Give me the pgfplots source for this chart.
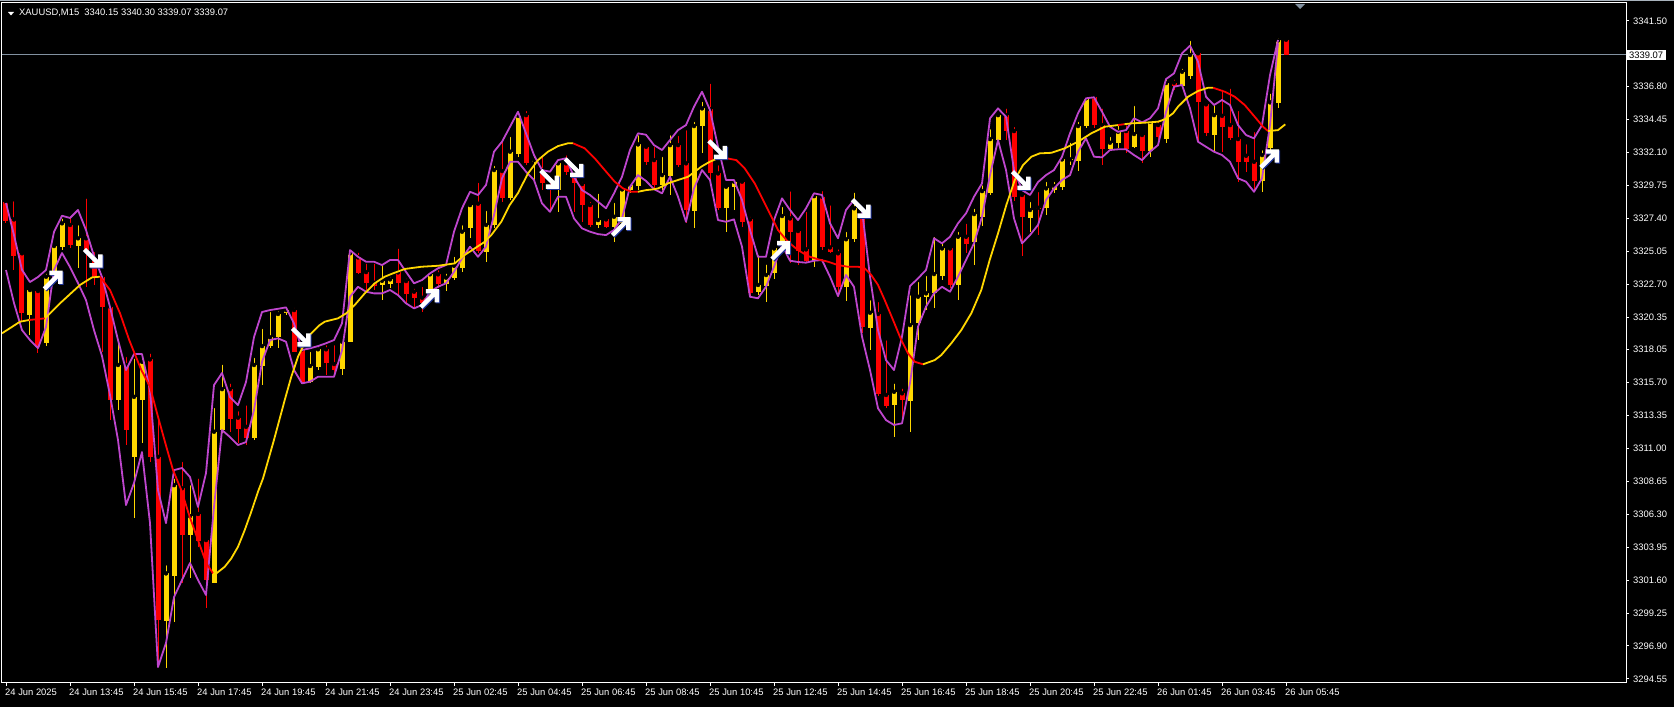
\documentclass[border=0pt]{standalone}
\usepackage{fontspec}
\setmainfont{Liberation Sans}
\usepackage{pgfplots}
\usepackage{pgfplotstable}
\pgfplotsset{compat=1.18}
\definecolor{mtyel}{RGB}{255,215,0}
\definecolor{mtred}{RGB}{255,0,0}
\definecolor{mtpur}{RGB}{190,70,205}
\definecolor{mtgray}{RGB}{130,145,160}
\definecolor{mtnavy}{RGB}{30,50,150}

\pgfdeclareplotmark{arrdr}{%
  \pgfsetlinewidth{4.4pt}\pgfsetmiterjoin\pgfsetbuttcap
  \pgfsetstrokecolor{mtnavy}%
  \pgfpathmoveto{\pgfpoint{-2pt}{-9pt}}\pgfpathlineto{\pgfpoint{9pt}{-9pt}}\pgfpathlineto{\pgfpoint{9pt}{2pt}}%
  \pgfpathmoveto{\pgfpoint{-7pt}{7pt}}\pgfpathlineto{\pgfpoint{8pt}{-8pt}}%
  \pgfusepathqstroke
  \pgfsetstrokecolor{white}%
  \pgfpathmoveto{\pgfpoint{-3pt}{-8pt}}\pgfpathlineto{\pgfpoint{8pt}{-8pt}}\pgfpathlineto{\pgfpoint{8pt}{3pt}}%
  \pgfpathmoveto{\pgfpoint{-8pt}{8pt}}\pgfpathlineto{\pgfpoint{7pt}{-7pt}}%
  \pgfusepathqstroke}
\pgfdeclareplotmark{arrur}{%
  \pgfsetlinewidth{4.4pt}\pgfsetmiterjoin\pgfsetbuttcap
  \pgfsetstrokecolor{mtnavy}%
  \pgfpathmoveto{\pgfpoint{-2pt}{7pt}}\pgfpathlineto{\pgfpoint{9pt}{7pt}}\pgfpathlineto{\pgfpoint{9pt}{-4pt}}%
  \pgfpathmoveto{\pgfpoint{-7pt}{-9pt}}\pgfpathlineto{\pgfpoint{8pt}{6pt}}%
  \pgfusepathqstroke
  \pgfsetstrokecolor{white}%
  \pgfpathmoveto{\pgfpoint{-3pt}{8pt}}\pgfpathlineto{\pgfpoint{8pt}{8pt}}\pgfpathlineto{\pgfpoint{8pt}{-3pt}}%
  \pgfpathmoveto{\pgfpoint{-8pt}{-8pt}}\pgfpathlineto{\pgfpoint{7pt}{7pt}}%
  \pgfusepathqstroke}

% bearish candles: index open high low close
\pgfplotstableread{
i o h l c
0 3328.59 3328.71 3327.07 3327.23
1 3327.33 3328.76 3323.72 3324.74
2 3324.91 3325.14 3320.00 3320.63
4 3322.22 3322.29 3317.81 3318.24
8 3326.93 3327.64 3325.29 3325.50
10 3325.98 3328.95 3322.52 3325.02
11 3324.57 3325.14 3322.65 3323.14
12 3323.24 3323.36 3317.89 3321.10
13 3321.10 3321.22 3313.01 3314.44
15 3316.94 3317.65 3311.23 3312.30
18 3317.34 3317.89 3310.04 3310.39
19 3310.39 3313.25 3295.41 3298.74
22 3308.14 3310.16 3301.36 3304.81
24 3306.31 3308.97 3303.97 3304.40
25 3304.45 3304.59 3299.58 3301.60
28 3315.22 3315.75 3312.18 3313.08
29 3313.18 3313.78 3311.35 3312.35
30 3312.53 3314.20 3311.23 3311.71
36 3320.86 3321.15 3317.86 3317.89
37 3318.06 3318.36 3315.65 3315.75
40 3318.06 3318.49 3316.22 3317.06
41 3317.01 3318.49 3316.10 3316.58
44 3324.62 3325.09 3323.43 3323.52
45 3323.57 3324.31 3322.29 3322.81
46 3322.81 3324.31 3322.29 3322.57
49 3323.55 3325.38 3321.93 3322.77
50 3322.93 3323.24 3321.34 3321.98
51 3322.17 3322.52 3320.98 3321.70
52 3321.74 3322.65 3320.74 3321.34
54 3323.41 3323.84 3322.41 3322.70
59 3328.45 3330.07 3324.92 3325.07
62 3330.78 3333.11 3328.59 3328.83
65 3334.77 3335.20 3331.21 3331.33
67 3330.85 3332.04 3329.42 3329.90
68 3329.66 3330.14 3328.00 3329.42
70 3331.33 3332.04 3330.49 3330.73
71 3330.61 3330.73 3327.87 3329.90
72 3329.85 3330.14 3327.16 3328.35
73 3328.35 3328.71 3326.81 3326.93
75 3327.33 3327.57 3326.71 3326.81
80 3332.51 3332.63 3331.21 3331.44
81 3331.56 3332.63 3329.57 3329.78
84 3332.63 3333.42 3331.06 3331.21
85 3331.33 3333.83 3327.05 3328.00
88 3335.18 3337.15 3329.90 3330.61
89 3330.61 3331.33 3328.00 3328.12
92 3330.02 3330.14 3326.81 3327.16
93 3327.33 3327.64 3321.81 3322.05
98 3327.40 3329.47 3324.19 3326.45
99 3326.50 3326.71 3324.07 3325.09
100 3325.19 3328.00 3324.29 3324.38
102 3328.95 3329.49 3325.14 3325.33
103 3325.33 3328.47 3324.92 3325.02
104 3324.91 3325.33 3321.81 3322.52
107 3327.52 3327.85 3319.20 3319.67
109 3320.58 3321.57 3314.72 3314.87
110 3314.80 3318.84 3313.85 3314.01
112 3314.92 3315.39 3313.13 3314.44
118 3325.26 3325.50 3322.41 3322.65
120 3326.09 3327.16 3324.91 3325.57
125 3334.77 3335.37 3332.99 3333.65
126 3333.63 3334.06 3328.66 3328.90
127 3329.07 3329.30 3324.71 3327.47
129 3328.16 3329.42 3326.21 3328.05
136 3336.08 3336.20 3333.85 3334.06
137 3334.06 3335.37 3331.21 3332.35
140 3333.63 3334.18 3332.04 3332.33
142 3333.35 3333.58 3331.33 3332.23
144 3334.06 3334.42 3332.99 3333.18
146 3337.08 3337.44 3336.56 3336.87
149 3339.18 3339.34 3332.76 3335.68
150 3335.54 3335.68 3333.30 3333.47
152 3334.72 3336.72 3332.11 3333.94
153 3334.06 3336.79 3332.99 3333.11
154 3333.06 3335.20 3330.02 3331.40
155 3331.87 3332.83 3330.73 3331.44
156 3331.44 3333.70 3329.30 3330.07
160 3340.15 3340.30 3339.07 3339.07
}\bear

% bullish candles
\pgfplotstableread{
i o h l c
3 3320.50 3322.43 3319.08 3322.29
5 3318.49 3323.59 3318.29 3323.24
6 3323.59 3325.64 3323.29 3325.43
7 3325.38 3327.52 3325.14 3327.05
9 3325.43 3327.05 3323.84 3325.98
14 3314.44 3318.72 3313.73 3316.94
16 3310.39 3317.53 3306.00 3314.67
17 3314.44 3317.65 3311.35 3317.17
20 3298.69 3302.79 3295.30 3302.07
21 3301.90 3308.97 3298.62 3308.37
23 3304.81 3308.50 3301.72 3306.16
26 3301.40 3314.01 3301.38 3312.18
27 3312.30 3317.10 3312.06 3315.22
31 3311.71 3317.58 3311.59 3316.94
32 3316.87 3319.65 3315.51 3318.29
33 3318.29 3320.86 3318.15 3318.91
34 3318.91 3320.91 3318.13 3320.58
35 3320.63 3321.00 3320.50 3320.86
38 3315.75 3318.01 3315.63 3316.87
39 3316.82 3318.36 3316.58 3318.06
42 3316.63 3318.72 3316.22 3318.60
43 3318.60 3325.14 3318.58 3324.91
47 3322.65 3324.19 3321.57 3322.95
48 3322.72 3323.36 3322.43 3323.05
53 3321.93 3323.59 3321.57 3323.41
55 3322.70 3323.59 3322.22 3323.17
56 3323.12 3324.79 3323.00 3324.02
57 3323.88 3327.05 3323.59 3326.45
58 3326.69 3328.59 3326.02 3328.35
60 3325.02 3328.07 3324.26 3326.93
61 3326.93 3331.28 3326.71 3330.85
63 3328.83 3333.35 3328.71 3332.16
64 3331.97 3335.01 3331.78 3334.72
66 3331.44 3332.04 3330.02 3331.56
69 3329.42 3331.56 3327.87 3331.33
74 3326.93 3329.30 3326.69 3327.28
76 3326.81 3328.64 3325.73 3327.52
77 3327.05 3329.66 3326.93 3329.47
78 3329.42 3329.90 3329.19 3329.78
79 3329.71 3333.47 3329.42 3332.68
82 3329.78 3331.92 3329.42 3330.49
83 3330.42 3333.47 3329.07 3332.63
86 3327.95 3334.42 3326.69 3333.99
87 3333.99 3335.85 3332.04 3335.25
90 3328.12 3329.90 3326.45 3329.66
91 3329.62 3330.26 3328.00 3330.02
94 3322.17 3324.91 3321.93 3322.65
95 3322.57 3324.24 3321.45 3323.36
96 3323.52 3325.50 3323.05 3325.26
97 3325.62 3328.35 3325.50 3327.57
101 3324.38 3329.07 3323.95 3328.99
105 3322.48 3326.57 3321.52 3325.91
106 3325.91 3329.37 3325.71 3328.12
108 3319.55 3321.70 3317.99 3320.67
111 3314.08 3315.75 3311.82 3315.03
113 3314.39 3322.05 3312.18 3319.79
114 3319.91 3323.00 3318.72 3321.81
115 3321.81 3323.43 3320.86 3322.05
116 3322.05 3326.21 3320.98 3323.43
117 3323.31 3325.86 3323.00 3325.26
119 3322.65 3326.57 3321.57 3326.09
121 3325.73 3328.23 3324.07 3327.71
122 3327.52 3329.90 3326.85 3329.35
123 3329.23 3333.90 3329.07 3333.06
124 3332.99 3335.01 3332.85 3334.77
128 3327.45 3328.71 3326.45 3328.00
130 3328.12 3330.14 3327.64 3329.54
131 3329.42 3330.14 3329.19 3329.71
132 3329.66 3331.92 3329.42 3331.61
133 3331.54 3332.94 3331.21 3331.61
134 3331.51 3334.42 3330.80 3333.99
135 3333.99 3336.08 3333.85 3335.97
138 3332.33 3333.35 3332.28 3332.80
139 3332.80 3334.18 3332.40 3333.58
141 3332.51 3335.56 3332.42 3333.42
143 3332.23 3334.42 3331.80 3334.30
145 3333.04 3337.56 3332.80 3337.06
147 3336.84 3338.22 3336.68 3337.86
148 3337.58 3340.20 3337.34 3339.06
151 3333.35 3335.61 3332.16 3334.77
157 3330.07 3332.40 3329.26 3331.92
158 3332.40 3336.44 3332.28 3335.68
159 3335.61 3340.40 3335.25 3340.10
}\bull

% envelope: upper and lower purple lines
\pgfplotstableread{
i u d
0 3328.50 3323.72
1 3326.21 3321.36
2 3323.72 3319.43
3 3322.86 3318.72
4 3323.22 3318.15
5 3323.72 3319.65
6 3326.43 3323.72
7 3327.59 3324.93
8 3327.43 3323.93
9 3328.00 3322.79
10 3326.57 3321.57
11 3324.71 3319.43
12 3323.22 3317.58
13 3321.08 3314.80
14 3318.72 3311.59
15 3316.58 3306.95
16 3317.72 3308.52
17 3317.72 3310.73
18 3315.15 3305.66
19 3308.02 3295.39
20 3305.66 3297.10
21 3309.44 3300.38
22 3309.59 3301.60
23 3308.95 3302.81
24 3306.81 3301.60
25 3309.23 3300.53
26 3315.51 3306.81
27 3316.37 3312.30
28 3314.65 3311.80
29 3314.08 3311.23
30 3315.72 3311.44
31 3318.93 3313.73
32 3320.72 3317.15
33 3320.86 3318.72
34 3320.95 3318.84
35 3321.05 3318.60
36 3319.91 3316.58
37 3318.01 3315.63
38 3318.13 3315.75
39 3318.29 3316.10
40 3318.49 3316.10
41 3318.72 3316.10
42 3319.91 3317.99
43 3325.14 3321.81
44 3324.66 3322.52
45 3324.31 3322.17
46 3324.31 3322.05
47 3324.07 3322.05
48 3324.43 3322.29
49 3324.43 3321.93
50 3323.59 3321.34
51 3322.77 3320.98
52 3323.00 3321.22
53 3323.48 3322.17
54 3323.84 3322.52
55 3324.07 3322.77
56 3326.45 3323.59
57 3328.12 3324.55
58 3329.30 3325.38
59 3329.07 3324.66
60 3329.78 3325.38
61 3332.16 3327.64
62 3332.87 3330.26
63 3333.94 3331.44
64 3335.01 3331.44
65 3333.47 3330.73
66 3331.92 3330.14
67 3330.85 3328.47
68 3330.73 3327.87
69 3331.56 3328.95
70 3331.69 3328.95
71 3330.37 3327.40
72 3329.42 3326.69
73 3329.07 3326.45
74 3328.59 3326.28
75 3328.12 3326.21
76 3329.19 3326.57
77 3330.37 3327.40
78 3332.28 3329.66
79 3333.47 3330.49
80 3333.37 3330.07
81 3332.63 3329.49
82 3332.28 3329.19
83 3332.99 3330.37
84 3333.70 3328.95
85 3334.06 3327.16
86 3335.37 3329.54
87 3336.44 3330.85
88 3335.13 3330.14
89 3332.51 3327.28
90 3330.14 3327.16
91 3330.14 3327.33
92 3328.71 3325.38
93 3326.57 3321.81
94 3324.66 3321.70
95 3324.66 3322.52
96 3327.28 3323.95
97 3328.83 3325.50
98 3328.00 3324.38
99 3327.28 3324.29
100 3328.12 3324.24
101 3329.19 3324.38
102 3329.07 3324.43
103 3327.05 3323.24
104 3325.98 3321.86
105 3328.00 3323.36
106 3328.71 3322.52
107 3328.00 3318.96
108 3323.24 3316.58
109 3319.43 3313.85
110 3317.29 3313.01
111 3316.58 3312.66
112 3318.96 3312.78
113 3322.57 3315.65
114 3323.12 3319.67
115 3323.72 3321.10
116 3325.98 3322.05
117 3325.62 3322.52
118 3326.09 3322.17
119 3327.05 3323.24
120 3327.76 3324.43
121 3328.95 3325.62
122 3329.90 3327.52
123 3334.54 3330.49
124 3335.25 3332.99
125 3334.65 3330.85
126 3330.85 3327.40
127 3329.42 3325.62
128 3329.07 3326.21
129 3329.99 3326.93
130 3330.49 3328.71
131 3330.85 3329.54
132 3331.80 3330.14
133 3333.47 3330.49
134 3334.90 3332.16
135 3335.97 3333.11
136 3336.04 3331.80
137 3335.01 3331.76
138 3333.94 3332.28
139 3333.58 3332.33
140 3333.70 3332.33
141 3334.54 3331.92
142 3334.25 3331.56
143 3334.54 3332.16
144 3335.25 3332.63
145 3337.34 3334.99
146 3337.75 3336.79
147 3339.18 3336.92
148 3339.72 3335.25
149 3338.58 3332.87
150 3336.08 3332.51
151 3335.49 3332.16
152 3335.85 3331.92
153 3335.49 3331.44
154 3334.06 3330.26
155 3333.35 3330.02
156 3333.11 3329.30
157 3334.06 3330.26
158 3337.63 3334.06
159 3340.13 3339.89
}\env

\begin{document}
\begin{tikzpicture}[x=1pt,y=1pt]
\fill[black] (0,0) rectangle (1674,707);
\draw[mtgray!70, line width=1pt] (0,706.5) -- (1674,706.5);
\begin{axis}[
  at={(2pt,24pt)}, anchor=south west,
  scale only axis, width=1624pt, height=680pt,
  xmin=-0.5, xmax=202.5, ymin=3294.25, ymax=3342.77,
  axis background/.style={fill=black},
  axis line style={white, line width=1pt},
  clip mode=individual,
  xtick pos=left, ytick pos=right, yticklabel pos=right,
  tick align=outside, major tick length=3pt,
  tick style={white, line width=0.8pt},
  xtick={0,8,...,160},
  xticklabels={24 Jun 2025, 24 Jun 13:45, 24 Jun 15:45, 24 Jun 17:45, 24 Jun 19:45, 24 Jun 21:45, 24 Jun 23:45, 25 Jun 02:45, 25 Jun 04:45, 25 Jun 06:45, 25 Jun 08:45, 25 Jun 10:45, 25 Jun 12:45, 25 Jun 14:45, 25 Jun 16:45, 25 Jun 18:45, 25 Jun 20:45, 25 Jun 22:45, 26 Jun 01:45, 26 Jun 03:45, 26 Jun 05:45},
  ytick={3341.50,3336.80,3334.45,3332.10,3329.75,3327.40,3325.05,3322.70,3320.35,3318.05,3315.70,3313.35,3311.00,3308.65,3306.30,3303.95,3301.60,3299.25,3296.90,3294.55},
  yticklabels={3341.50,3336.80,3334.45,3332.10,3329.75,3327.40,3325.05,3322.70,3320.35,3318.05,3315.70,3313.35,3311.00,3308.65,3306.30,3303.95,3301.60,3299.25,3296.90,3294.55},
  tick label style={font=\fontsize{9.4}{11}\selectfont, text=white, inner sep=0pt},
  xticklabel style={anchor=north west, xshift=-1pt, yshift=-3pt},
  yticklabel style={anchor=west, xshift=4pt},
]
% current price line
\addplot[mtgray, line width=1pt, forget plot] coordinates {(-0.5,3339.07) (202.5,3339.07)};
% wicks
\addplot[only marks, mark=none, error bars/.cd, y dir=minus, y explicit, error mark=none,
  error bar style={draw=mtred, line width=1pt}] table[x=i, y=h, y error expr=\thisrow{h}-\thisrow{l}] {\bear};
\addplot[only marks, mark=none, error bars/.cd, y dir=minus, y explicit, error mark=none,
  error bar style={draw=mtyel, line width=1pt}] table[x=i, y=h, y error expr=\thisrow{h}-\thisrow{l}] {\bull};
% bodies
\addplot[only marks, mark=none, error bars/.cd, y dir=minus, y explicit, error mark=none,
  error bar style={draw=mtred, line width=5pt, line cap=butt}] table[x=i, y=o, y error expr=\thisrow{o}-\thisrow{c}] {\bear};
\addplot[only marks, mark=none, error bars/.cd, y dir=minus, y explicit, error mark=none,
  error bar style={draw=mtyel, line width=5pt, line cap=butt}] table[x=i, y=c, y error expr=\thisrow{c}-\thisrow{o}] {\bull};
% envelope
\addplot[mtpur, line width=1.8pt, line join=round, mark=none] table[x=i, y=u] {\env};
\addplot[mtpur, line width=1.8pt, line join=round, mark=none] table[x=i, y=d] {\env};
% moving average, coloured by slope
\addplot[mtyel, line width=1.8pt, mark=none] coordinates {(-0.5,3319.20) (1.75,3320.03) (2.88,3320.15)};
\addplot[mtred, line width=1.8pt, mark=none] coordinates {(2.88,3320.15) (4.88,3320.27)};
\addplot[mtyel, line width=1.8pt, mark=none] coordinates {(4.88,3320.27) (6.75,3321.34) (9.25,3322.65) (10.75,3323.19) (11.75,3323.24)};
\addplot[mtred, line width=1.8pt, mark=none] coordinates {(11.75,3323.24) (13,3322.29) (14.25,3320.63) (15.4,3318.72) (16.9,3316.60) (18,3315.39) (19,3313.25) (20.04,3311.11) (20.88,3309.44) (21.91,3308.02) (22.96,3306.11) (24,3304.45) (25.04,3302.79) (25.88,3302.07)};
\addplot[mtyel, line width=1.8pt, mark=none] coordinates {(25.88,3302.07) (26.29,3302.07) (27.34,3302.54) (28.16,3303.14) (29,3303.97) (29.84,3305.16) (30.66,3306.47) (31.5,3307.90) (32.13,3308.85) (33.5,3311.60) (34.84,3314.44) (35.66,3316.10) (36.5,3317.53) (37.34,3318.49) (38.16,3319.20) (39.21,3319.79) (39.84,3320.03) (41.5,3320.27) (42.54,3320.63) (43.59,3321.22) (44.84,3322.05) (46.09,3322.77) (47.34,3323.24) (48.38,3323.48) (49.84,3323.79) (51.91,3323.95) (54,3324.02) (56.09,3324.19) (57.34,3324.79) (58.59,3325.26) (59.84,3325.73) (60.66,3326.21) (61.91,3327.16) (62.96,3328.35) (64,3329.21) (65.25,3330.61) (66.5,3331.56) (67.75,3332.16) (69,3332.56) (70.25,3332.76) (70.88,3332.76)};
\addplot[mtred, line width=1.8pt, mark=none] coordinates {(70.88,3332.76) (72.34,3332.40) (73.59,3331.69) (74.84,3330.85) (76.09,3330.02) (77.13,3329.54) (78.16,3329.30) (79,3329.30)};
\addplot[mtyel, line width=1.8pt, mark=none] coordinates {(79,3329.30) (80.04,3329.42) (80.88,3329.47) (81.5,3329.54) (82.75,3329.90) (84,3330.14) (85.25,3330.37) (86.09,3330.73) (86.91,3331.09) (87.96,3331.44) (89,3331.69) (90.09,3331.69)};
\addplot[mtred, line width=1.8pt, mark=none] coordinates {(90.09,3331.69) (91.29,3331.56) (92.34,3330.97) (93.59,3329.90) (94.84,3328.47) (96.09,3327.05) (96.5,3326.57) (97.75,3325.73) (99,3325.14) (100.25,3324.71) (101.5,3324.48) (102.75,3324.31) (104,3324.07) (105.25,3323.95) (106.5,3323.95) (107.34,3323.84) (108.16,3323.36) (109,3322.65) (109.84,3321.57) (110.88,3320.15) (111.91,3318.72) (112.75,3317.77) (113.59,3317.17) (114.63,3316.99)};
\addplot[mtyel, line width=1.8pt, mark=none] coordinates {(114.63,3316.99) (116.09,3317.29) (116.91,3317.65) (118.16,3318.49) (119.41,3319.43) (120.66,3320.63) (121.91,3322.29) (122.96,3324.43) (124,3326.33) (125.04,3328.35) (126.09,3330.14) (127.13,3331.21) (128.16,3331.80) (129.21,3332.04) (130.66,3332.08) (132.34,3332.40) (134,3332.87) (135.66,3333.47) (137.34,3333.94) (139,3334.06)};
\addplot[mtred, line width=1.8pt, mark=none] coordinates {(139,3334.06) (139.8,3334.12)};
\addplot[mtyel, line width=1.8pt, mark=none] coordinates {(139.8,3334.12) (140.66,3334.18) (142.34,3334.23) (144,3334.30) (144.84,3334.47) (145.88,3334.90) (146.5,3335.37) (147.75,3336.08) (149,3336.49) (150.25,3336.72) (150.88,3336.72)};
\addplot[mtred, line width=1.8pt, mark=none] coordinates {(150.88,3336.72) (152.34,3336.44) (153.59,3336.08) (154.84,3335.49) (156.09,3334.65) (157.13,3333.94) (157.75,3333.63)};
\addplot[mtyel, line width=1.8pt, mark=none] coordinates {(157.75,3333.63) (159,3333.70) (159.91,3334.11)};
% signal arrows
\addplot[only marks, mark=arrdr] coordinates {(10.8,3324.62) (36.8,3318.98) (67.85,3330.24) (70.9,3331.08) (88.85,3332.36) (106.8,3328.17) (126.8,3330.16)};
\addplot[only marks, mark=arrur] coordinates {(5.8,3322.94) (52.85,3321.63) (76.8,3326.77) (96.75,3325.07) (157.85,3331.60)};
% current price box
\node[fill=white, text=black, inner xsep=3pt, inner ysep=1.5pt, anchor=west, font=\fontsize{9.4}{11}\selectfont] at (axis cs:202.5,3339.07) {3339.07};
\end{axis}
% title
\fill[white] (8,695) -- (14,695) -- (11,691.5) -- cycle;
\node[anchor=base west, inner sep=0pt, text=white, font=\fontsize{9.4}{11}\selectfont] at (19,691) {XAUUSD,M15\ \ 3340.15 3340.30 3339.07 3339.07};
% chart shift marker
\fill[mtgray] (1295,703) -- (1305,703) -- (1300,698) -- cycle;
\pgfresetboundingbox
\path[use as bounding box] (0,0) rectangle (1674,707);
\end{tikzpicture}
\end{document}
